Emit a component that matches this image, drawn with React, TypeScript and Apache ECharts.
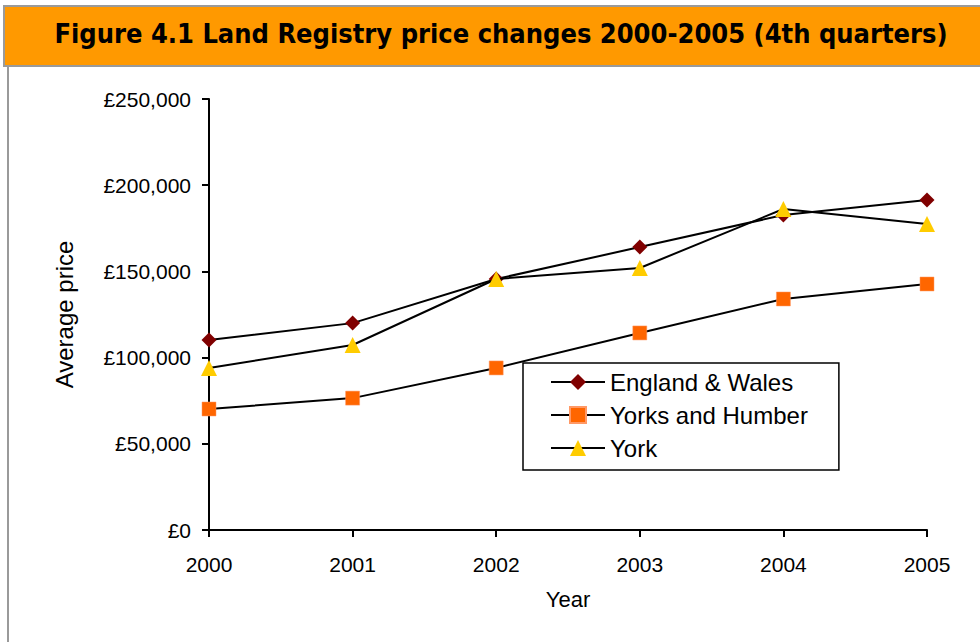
import React, { useEffect, useRef } from "react";
import * as echarts from "echarts";

const years = ["2000", "2001", "2002", "2003", "2004", "2005"];
const englandWales = [110200, 120000, 145600, 164100, 182700, 191400];
const yorksHumber = [70200, 76500, 94000, 114300, 134000, 142700];
const york = [94000, 107300, 145600, 152000, 186200, 177500];
const seriesNames = ["England & Wales", "Yorks and Humber", "York"];
const titleText = "Figure 4.1 Land Registry price changes 2000-2005 (4th quarters)";

export default function App() {
  const ref = useRef<HTMLDivElement>(null);
  useEffect(() => {
    const chart = echarts.init(ref.current!, null, { renderer: "svg" });
    const font = "'Liberation Sans', Arial, sans-serif";
    chart.setOption({
      animation: false,
      backgroundColor: "#ffffff",
      graphic: [
        {
          type: "rect",
          shape: { x: 4, y: 6, width: 990, height: 60 },
          style: { fill: "#FF9900", stroke: "#9a9a9a", lineWidth: 2 },
        },
        {
          type: "line",
          shape: { x1: 8, y1: 66, x2: 8, y2: 642 },
          style: { stroke: "#9a9a9a", lineWidth: 2 },
        },
        {
          type: "text",
          x: 501,
          y: 33,
          style: {
            text: titleText,
            fontFamily: "'DejaVu Sans Condensed', 'DejaVu Sans', sans-serif",
            fontWeight: "bold",
            fontSize: 27,
            fill: "#000",
            align: "center",
            verticalAlign: "middle",
          },
        },
      ],
      grid: { left: 209, right: 53, top: 99, bottom: 112, containLabel: false },
      legend: {
        orient: "vertical",
        left: 523,
        top: 363,
        padding: [7, 31, 10, 27],
        itemGap: 9,
        itemWidth: 54,
        itemHeight: 20,
        borderColor: "#000",
        borderWidth: 1.5,
        textStyle: { fontFamily: font, fontSize: 24, lineHeight: 24, color: "#000" },
        data: seriesNames,
      },
      xAxis: {
        type: "category",
        data: years,
        boundaryGap: false,
        name: "Year",
        nameLocation: "middle",
        nameGap: 58,
        nameTextStyle: { fontFamily: font, fontSize: 22, color: "#000" },
        axisLine: { lineStyle: { color: "#000", width: 2 } },
        axisTick: { length: 7, lineStyle: { color: "#000", width: 2 } },
        axisLabel: { fontFamily: font, fontSize: 21, color: "#000", margin: 24 },
      },
      yAxis: {
        type: "value",
        min: 0,
        max: 250000,
        interval: 50000,
        name: "Average price",
        nameLocation: "middle",
        nameGap: 133,
        nameTextStyle: { fontFamily: font, fontSize: 24, color: "#000" },
        splitLine: { show: false },
        axisLine: { show: true, lineStyle: { color: "#000", width: 2 } },
        axisTick: { show: true, length: 7, lineStyle: { color: "#000", width: 2 } },
        axisLabel: {
          fontFamily: font,
          fontSize: 21,
          color: "#000",
          margin: 18,
          formatter: (v: number) => "£" + v.toLocaleString("en-GB"),
        },
      },
      series: [
        {
          name: seriesNames[0],
          type: "line",
          data: englandWales,
          symbol: "diamond",
          symbolSize: 15,
          lineStyle: { color: "#000", width: 2 },
          itemStyle: { color: "#800000" },
          z: 3,
        },
        {
          name: seriesNames[1],
          type: "line",
          data: yorksHumber,
          symbol: "rect",
          symbolSize: 14,
          lineStyle: { color: "#000", width: 2 },
          itemStyle: { color: "#FF6600", borderColor: "#FF9966", borderWidth: 0.5 },
          z: 3,
        },
        {
          name: seriesNames[2],
          type: "line",
          data: york,
          symbol: "triangle",
          symbolSize: 16,
          lineStyle: { color: "#000", width: 2 },
          itemStyle: { color: "#FFCC00" },
          z: 4,
        },
      ],
    });
    return () => chart.dispose();
  }, []);
  return (
    <div
      ref={ref}
      style={{ position: "fixed", left: 0, top: 0, width: 980, height: 642 }}
    />
  );
}
